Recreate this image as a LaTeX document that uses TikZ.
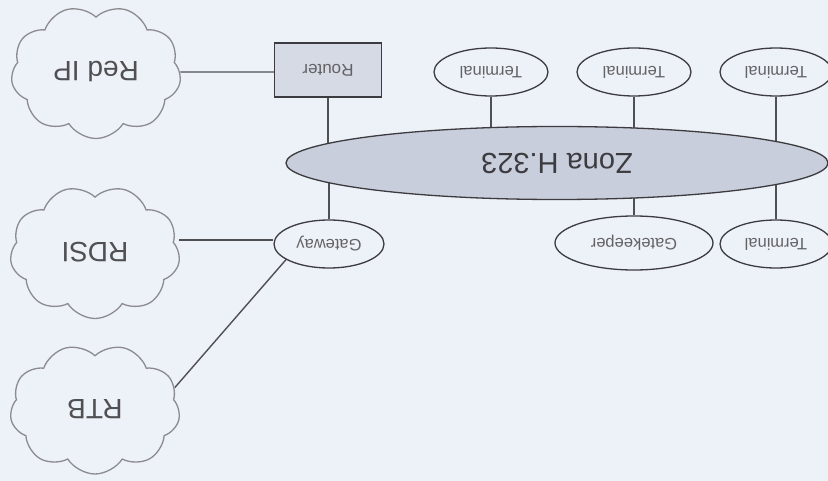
\documentclass[tikz,border=0pt]{standalone}
\usepackage{fontspec}
\setmainfont{Liberation Sans}
\usetikzlibrary{shapes.symbols,shapes.geometric,backgrounds}
\definecolor{bg}{HTML}{EDF1F8}
\definecolor{ink}{HTML}{3C3C40}
\definecolor{cloudline}{HTML}{8C8C90}
\definecolor{routerfill}{HTML}{D6DAE4}
\definecolor{zonafill}{HTML}{C9CEDC}
\tikzset{
  netcloud/.style={cloud, cloud puffs=9, cloud puff arc=115, cloud ignores aspect, rotate=180,
    draw=cloudline, line width=1.3pt, fill=bg, minimum width=170pt, minimum height=133pt,
    inner sep=0pt, font=\fontsize{28}{30}\selectfont, text=ink!90},
  smallell/.style={ellipse, rotate=180, draw=ink, line width=1.3pt, fill=bg, inner sep=0pt,
    minimum width=110pt, minimum height=48pt, font=\fontsize{16.5}{18}\selectfont, text=ink!80},
  routerbox/.style={rectangle, rotate=180, draw=ink, line width=1.5pt, fill=routerfill, inner sep=0pt,
    minimum width=107pt, minimum height=54pt, font=\fontsize{17}{18}\selectfont, text=ink!80},
  zona/.style={ellipse, rotate=180, draw=ink, line width=1.3pt, fill=zonafill, inner sep=0pt,
    minimum width=542pt, minimum height=73pt, font=\fontsize{29}{31}\selectfont, text=ink},
  link/.style={draw=ink!90, line width=1.4pt}
}
\begin{document}
\begin{tikzpicture}[x=1pt,y=-1pt]
\useasboundingbox (0,0) rectangle (828,481);
\node[netcloud] (redip) at (96,72) {Red IP};
\node[netcloud] (rdsi) at (95,252) {RDSI};
\node[netcloud, minimum height=130pt] (rtb) at (95,409) {RTB};
\node[routerbox] (router) at (328,70) {Router};
\node[zona] (zonanode) at (557,163) {Zona H.323};
\node[smallell, minimum width=114pt] (t1) at (491,72) {Terminal};
\node[smallell, minimum width=114pt] (t2) at (634,72) {Terminal};
\node[smallell, minimum width=112pt] (t3) at (776,72) {Terminal};
\node[smallell, minimum width=158pt, minimum height=54pt] (gk) at (634,243) {Gatekeeper};
\node[smallell, minimum width=112pt] (t4) at (776,244) {Terminal};
\node[smallell, minimum width=110pt] (gw) at (329,244) {Gateway};
\begin{scope}[on background layer]
  \fill[bg] (0,0) rectangle (828,481);
  \path[link] (redip) -- (redip -| router);
  \path[link] (router) -- (router |- zonanode);
  \path[link] (gw) -- (gw |- zonanode);
  \path[link] (t1) -- (t1 |- zonanode);
  \path[link] (t2) -- (t2 |- zonanode);
  \path[link] (t3) -- (t3 |- zonanode);
  \path[link] (gk) -- (gk |- zonanode);
  \path[link] (t4) -- (t4 |- zonanode);
  \path[link] (rdsi.west |- 0,240) -- (gw.east |- 0,240);
  \path[link] (gw.20) -- (rtb.195);
\end{scope}
\end{tikzpicture}
\end{document}
